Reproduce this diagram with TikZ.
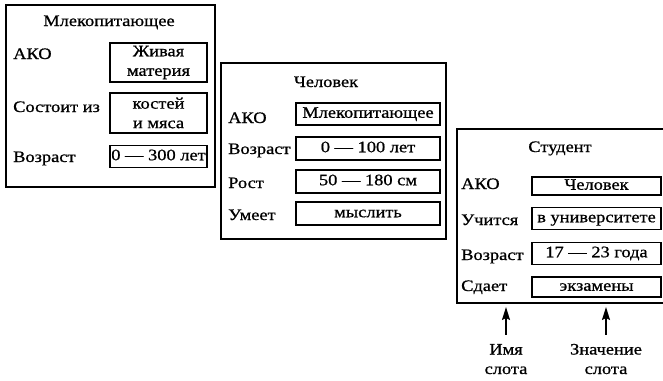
\documentclass[tikz,border=0pt]{standalone}
\usepackage{fontspec}
\setmainfont{Liberation Serif}[FakeBold=0.8, FakeStretch=1.15]
\usetikzlibrary{arrows.meta}
\begin{document}
\begin{tikzpicture}[x=1pt,y=-1pt,
  txt/.style={font=\fontsize{16}{19.5}\selectfont, inner sep=0pt},
  lbl/.style={txt, anchor=base west},
  ttl/.style={txt, anchor=base},
  val/.style={draw, line width=1.8pt, txt, align=center, text height=10.5pt, text depth=3pt},
  val2/.style={draw, line width=1.8pt, txt, align=center},
  arr/.style={line width=1.6pt, -{Stealth[length=13pt,width=8pt,inset=2pt]}}
]
\useasboundingbox (0,0) rectangle (663,380);
% ---------- Frame 1
\node[draw, line width=1.8pt, inner sep=0pt, minimum width=209pt, minimum height=182pt] (f1) at (110.5,96) {};
\node[ttl] (t1) at (109,26) {Млекопитающее};
\node[lbl] (l11) at (13,59) {АКО};
\node[lbl] (l12) at (13,112) {Состоит из};
\node[lbl] (l13) at (13,162) {Возраст};
\node[val2, minimum width=97pt, minimum height=39pt] (v11) at (158.5,62.5) {Живая\\материя};
\node[val2, minimum width=97pt, minimum height=40pt] (v12) at (158.5,113) {костей\\и мяса};
\node[val, minimum width=97pt, minimum height=22pt] (v13) at (158.5,156.5) {0 — 300 лет};
% ---------- Frame 2
\node[draw, line width=1.8pt, inner sep=0pt, minimum width=225pt, minimum height=176pt] (f2) at (333.5,151) {};
\node[ttl] (t2) at (326,87) {Человек};
\node[lbl] (l21) at (228,123) {АКО};
\node[lbl] (l22) at (228,154) {Возраст};
\node[lbl] (l23) at (228,188) {Рост};
\node[lbl] (l24) at (228,220) {Умеет};
\node[val, minimum width=144pt, minimum height=22pt] (v21) at (368,114) {Млекопитающее};
\node[val, minimum width=144pt, minimum height=23pt] (v22) at (368,148.5) {0 — 100 лет};
\node[val, minimum width=144pt, minimum height=23pt] (v23) at (368,181.5) {50 — 180 см};
\node[val, minimum width=144pt, minimum height=23pt] (v24) at (368,213.5) {мыслить};
% ---------- Frame 3 (right side runs off the page)
\coordinate (f3tl) at (457,129);
\coordinate (f3bl) at (457,303);
\draw[line width=1.8pt] (664,129) -- (f3tl) -- (f3bl) -- (664,303);
\node[ttl] (t3) at (560,152) {Студент};
\node[lbl] (l31) at (461,189) {АКО};
\node[lbl] (l32) at (461,225) {Учится};
\node[lbl] (l33) at (461,260) {Возраст};
\node[lbl] (l34) at (461,291) {Сдает};
\node[val, minimum width=129pt, minimum height=18pt] (v31) at (596.5,186) {Человек};
\node[val, minimum width=129pt, minimum height=22pt] (v32) at (596.5,218.5) {в университете};
\node[val, minimum width=129pt, minimum height=22pt] (v33) at (596.5,253.5) {17 — 23 года};
\node[val, minimum width=129pt, minimum height=20pt] (v34) at (596.5,287) {экзамены};
% ---------- Legend
\node[txt, align=center, anchor=base] (n1) at (506,374) {Имя\\слота};
\node[txt, align=center, anchor=base] (n2) at (606,374) {Значение\\слота};
\coordinate (b1) at (506,307);
\coordinate (b2) at (606,307);
\draw[arr] (n1.north) ++(0,-9) -- (b1);
\draw[arr] (n2.north) ++(0,-9) -- (b2);
\end{tikzpicture}
\end{document}
